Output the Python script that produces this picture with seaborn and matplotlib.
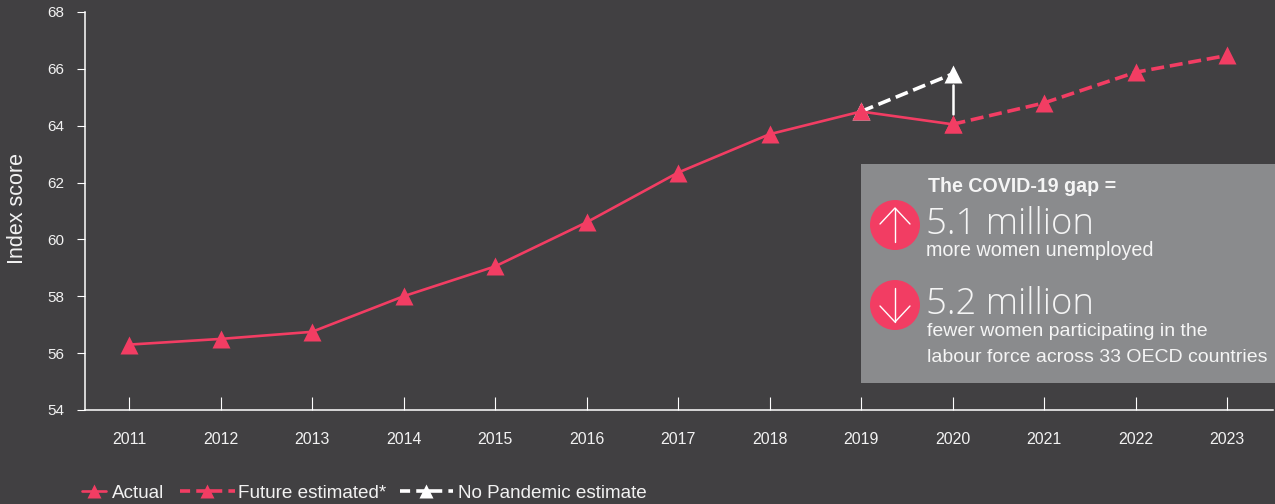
import numpy as np
import pandas as pd
import matplotlib
matplotlib.use('Agg')
import matplotlib.pyplot as plt
from matplotlib.patches import Rectangle, Circle
import seaborn as sns

years = [2011, 2012, 2013, 2014, 2015, 2016, 2017, 2018, 2019, 2020, 2021, 2022, 2023]
actual = [56.3, 56.5, 56.75, 58.0, 59.05, 60.6, 62.35, 63.7, 64.5, 64.05]
future_years = [2020, 2021, 2022, 2023]
future = [64.05, 64.8, 65.88, 66.47]
nopan_years = [2019, 2020]
nopan = [64.5, 65.82]
yticks = [54, 56, 58, 60, 62, 64, 66, 68]

BG = '#414042'
PINK = '#f23d63'
TXT = '#f2f2f2'

sns.set_theme(style='white')
plt.rcParams['font.family'] = ['Liberation Sans', 'DejaVu Sans']
plt.rcParams['axes.facecolor'] = BG
plt.rcParams['figure.facecolor'] = BG

W, H = 1275, 504
fig = plt.figure(figsize=(W / 100, H / 100), dpi=100)
ax = fig.add_axes([85 / W, 1 - 410 / H, (W - 85) / W, 398 / H])

df_a = pd.DataFrame({'year': years[:len(actual)], 'v': actual})
df_f = pd.DataFrame({'year': future_years, 'v': future})
df_n = pd.DataFrame({'year': nopan_years, 'v': nopan})

sns.lineplot(data=df_n, x='year', y='v', ax=ax, color='white', lw=2.6, marker='^', ms=13,
             mec='none', dashes=(3.6, 1.6), label='No Pandemic estimate', zorder=3)
sns.lineplot(data=df_f, x='year', y='v', ax=ax, color=PINK, lw=2.6, marker='^', ms=13,
             mec='none', dashes=(3.6, 1.6), label='Future estimated*', zorder=4)
sns.lineplot(data=df_a, x='year', y='v', ax=ax, color=PINK, lw=1.9, marker='^', ms=13,
             mec='none', label='Actual', zorder=5)

# connector between the two 2020 points
ax.plot([2020, 2020], [64.41, 65.43], color='white', lw=1.8, zorder=3)

x0 = 2011 - (129 - 85) / 91.5
ax.set_xlim(x0, x0 + (W - 85) / 91.5)
ax.set_ylim(54, 68)
ax.set_xticks(years)
ax.set_yticks(yticks)
ax.set_xlabel('')
ax.set_ylabel('Index score', color=TXT, fontsize=15.5)
ax.yaxis.set_label_coords(-57 / 1190, 0.5075)
ax.tick_params(axis='x', direction='in', length=9.4, width=0.8, color='white', labelcolor=TXT,
               labelsize=11.4, pad=16, bottom=True)
ax.tick_params(axis='y', direction='out', length=5.8, width=0.8, color='white', labelcolor=TXT,
               labelsize=11, pad=9, left=True)
sns.despine(ax=ax)
for s in ['left', 'bottom']:
    ax.spines[s].set_color('white')
    ax.spines[s].set_linewidth(1.1)
ax.spines['bottom'].set_bounds(x0, x0 + (1273 - 85) / 91.5)

# three separate legends, the handles differ in length
h, l = ax.get_legend_handles_labels()
entries = [(2, 82, 1.27, 0.32, None),
           (1, 180, 2.9, 0.16, (2.8, 1.7, 7.2, 1.7, 2.2, 10)),
           (0, 400, 2.8, 0.26, (2.8, 1.7, 7.2, 1.7, 2.2, 10))]
for i, xp, hl, pad, dash in entries:
    leg = fig.legend([h[i]], [l[i]], loc='center left', bbox_to_anchor=(xp / W, 1 - 493 / H),
                     frameon=False, fontsize=13.6, labelcolor=TXT, handlelength=hl,
                     handletextpad=pad, borderpad=0, borderaxespad=0)
    lh = leg.legend_handles[0]
    lh.set_markersize(10)
    if dash:
        lh.set_linestyle((0, dash))
ax.get_legend().remove()

# COVID box in pixel coords
def px(x, y):
    return x / W, 1 - y / H

fig.add_artist(Rectangle(px(861, 383), (W - 861) / W, 219 / H, transform=fig.transFigure,
                         color='#8a8b8d', lw=0, zorder=6))
for cy in (225, 305):
    fig.add_artist(Circle((895, H - cy), 25, transform=None, color=PINK, lw=0, zorder=7))

# arrows in the circles
for cy, sgn in ((225, 1), (305, -1)):
    tip = H - cy + sgn * 17
    tail = H - cy - sgn * 17
    fig.add_artist(plt.Line2D([895, 895], [tail, tip], transform=None, color='white', lw=1, zorder=8))
    fig.add_artist(plt.Line2D([880, 895, 910], [tip - sgn * 16, tip, tip - sgn * 16], transform=None,
                              color='white', lw=1, zorder=8))

def txt(x, y, s, size, **kw):
    fig.text(x / W, 1 - y / H, s, fontsize=size, color='#f5f5f5', va='center', ha='left', zorder=9, **kw)

txt(928, 186, 'The COVID-19 gap =', 14.1, fontweight='bold')
txt(926, 224, '5.1 million', 26.3, family='Open Sans', fontweight=300)
txt(926, 251, 'more women unemployed', 14.2)
txt(926, 304, '5.2 million', 26.3, family='Open Sans', fontweight=300)
txt(927, 332, 'fewer women participating in the', 14)
txt(927, 357, 'labour force across 33 OECD countries', 14)

fig.savefig('out.png', dpi=100, facecolor=BG)
